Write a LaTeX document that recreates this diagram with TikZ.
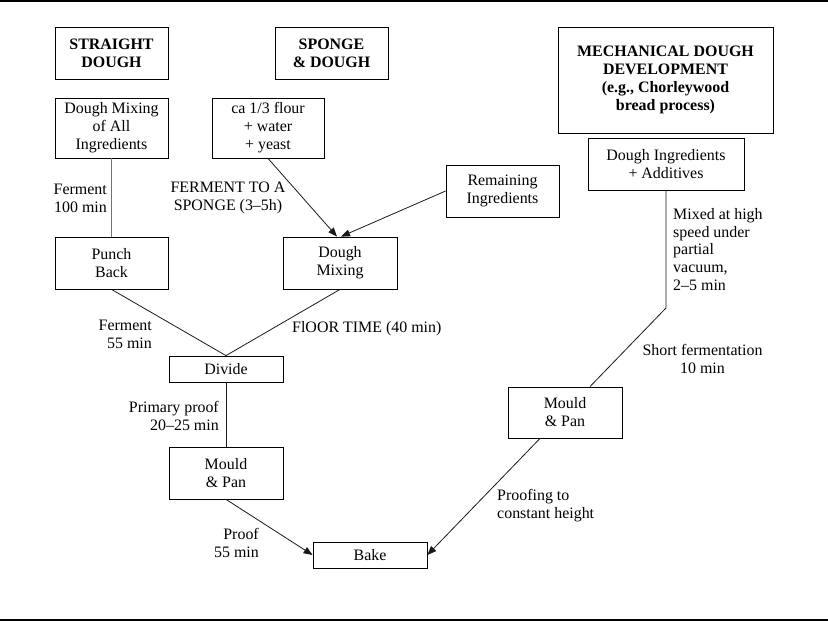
\documentclass[tikz,border=0pt]{standalone}
\usepackage{fontspec}
\setmainfont{Liberation Serif}
\usetikzlibrary{arrows.meta}
\begin{document}
\begin{tikzpicture}[x=1bp,y=-1bp,
  txt/.style={font=\fontsize{16}{18}\selectfont, inner sep=0pt, text=black},
  box/.style={txt, draw, line width=0.8bp, align=center},
  head/.style={box, font=\fontsize{16}{18}\selectfont\bfseries},
  conn/.style={line width=0.8bp, draw=black!90},
  arr/.style={conn, -{Triangle[length=9bp,width=7bp]}},
  rule/.style={line width=1.6bp}]
\useasboundingbox (0,0) rectangle (828,621);
\coordinate (tl) at (0,0.8); \coordinate (tr) at (828,0.8);
\coordinate (bl) at (0,620); \coordinate (br) at (828,620);
\draw[rule] (tl) -- (tr);
\draw[rule] (bl) -- (br);
% headings
\node[head, minimum width=113bp, minimum height=52bp] (sd) at (111.5,53) {STRAIGHT\\DOUGH};
\node[head, minimum width=113bp, minimum height=52bp] (spd) at (331.5,53) {SPONGE\\\& DOUGH};
\node[head, minimum width=215bp, minimum height=106bp] (mdd) at (665.5,80) {MECHANICAL DOUGH\\DEVELOPMENT\\(e.g., Chorleywood\\bread process)};
% process boxes
\node[box, minimum width=113bp, minimum height=60bp] (dmall) at (111.5,128) {Dough Mixing\\of All\\Ingredients};
\node[box, minimum width=112bp, minimum height=60bp] (flour) at (268,128) {ca 1/3 flour\\+ water\\+ yeast};
\node[box, minimum width=113bp, minimum height=52bp] (rem) at (502.5,191) {Remaining\\Ingredients};
\node[box, minimum width=156bp, minimum height=52bp] (ding) at (666,164) {Dough Ingredients\\+ Additives};
\node[box, minimum width=113bp, minimum height=52bp] (punch) at (111.5,263) {Punch\\Back};
\node[box, minimum width=114bp, minimum height=52bp] (dmix) at (340,263) {Dough\\Mixing};
\node[box, minimum width=114bp, minimum height=26bp] (divide) at (226,369) {Divide};
\node[box, minimum width=114bp, minimum height=52bp] (mould1) at (226,473) {Mould\\\& Pan};
\node[box, minimum width=114bp, minimum height=51bp] (mould2) at (565,412.5) {Mould\\\& Pan};
\node[box, minimum width=114bp, minimum height=26bp] (bake) at (370,555) {Bake};
% connectors
\draw[conn, draw=black!55] (dmall.south) -- (punch.north);
\draw[arr] (flour.south) -- ([xshift=-3bp]dmix.north);
\draw[arr] (rem.west) -- ([xshift=1bp]dmix.north);
\draw[conn] (punch.south) -- (divide.north);
\draw[conn] (dmix.south) -- (divide.north);
\draw[conn] (divide.south) -- (mould1.north);
\draw[arr] (mould1.south) -- (bake.west);
\coordinate (bend) at (666,308);
\draw[conn] (ding.south) -- (bend) -- (mould2);
\draw[arr] ([xshift=-25bp]mould2.south) -- (bake.east);
% labels
\node[txt, align=right, anchor=east] (l1) at (107,198) {Ferment\\100 min};
\node[txt, align=center] (l2) at (228,198) {FERMENT TO A\\SPONGE (3–5h)};
\node[txt, align=right, anchor=east] (l3) at (152,334) {Ferment\\55 min};
\node[txt, anchor=west] (l4) at (292,329) {FlOOR TIME (40 min)};
\node[txt, align=right, anchor=east] (l5) at (219,415.5) {Primary proof\\20–25 min};
\node[txt, align=right, anchor=east] (l6) at (259,542.5) {Proof\\55 min};
\node[txt, align=left, anchor=west] (l7) at (673,249.5) {Mixed at high\\speed under\\partial\\vacuum,\\2–5 min};
\node[txt, align=center] (l8) at (702.5,359) {Short fermentation\\10 min};
\node[txt, align=left, anchor=west] (l9) at (497,505.5) {Proofing to\\constant height};
\end{tikzpicture}
\end{document}
